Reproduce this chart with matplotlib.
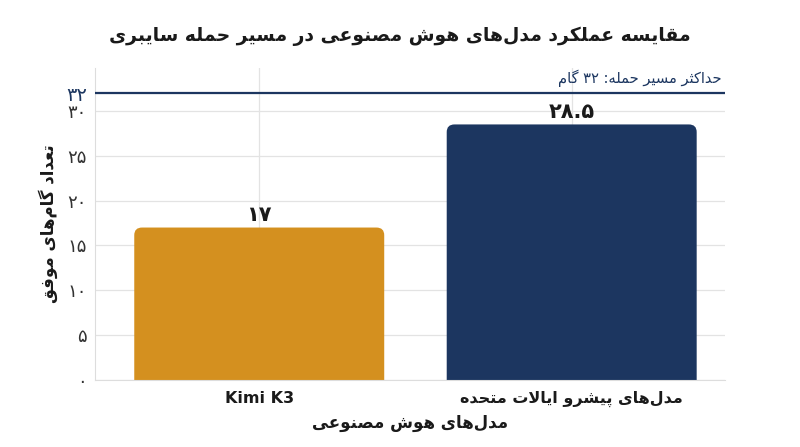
import re
import matplotlib
matplotlib.use("Agg")
import matplotlib.pyplot as plt
from matplotlib.patches import FancyBboxPatch

# chart data
categories = ["Kimi K3", "مدل‌های پیشرو ایالات متحده"]
steps = [17, 28.5]
bar_colors = ["#D4901F", "#1C3660"]
max_steps = 32
yticks = [0, 5, 10, 15, 20, 25, 30]

title = "مقایسه عملکرد مدل‌های هوش مصنوعی در مسیر حمله سایبری"
xlabel = "مدل‌های هوش مصنوعی"
ylabel = "تعداد گام‌های موفق"
max_label = "حداکثر مسیر حمله: ۳۲ گام"

# --- minimal Persian shaping (matplotlib has no bidi / joining) ---
# isolated, final, initial, medial
FORMS = {
    "ا": ("\uFE8D", "\uFE8E", None, None),
    "آ": ("\uFE81", "\uFE82", None, None),
    "د": ("\uFEA9", "\uFEAA", None, None),
    "ذ": ("\uFEAB", "\uFEAC", None, None),
    "ر": ("\uFEAD", "\uFEAE", None, None),
    "ز": ("\uFEAF", "\uFEB0", None, None),
    "ژ": ("\uFB8A", "\uFB8B", None, None),
    "و": ("\uFEED", "\uFEEE", None, None),
    "ب": ("\uFE8F", "\uFE90", "\uFE91", "\uFE92"),
    "پ": ("\uFB56", "\uFB57", "\uFB58", "\uFB59"),
    "ت": ("\uFE95", "\uFE96", "\uFE97", "\uFE98"),
    "ث": ("\uFE99", "\uFE9A", "\uFE9B", "\uFE9C"),
    "ج": ("\uFE9D", "\uFE9E", "\uFE9F", "\uFEA0"),
    "چ": ("\uFB7A", "\uFB7B", "\uFB7C", "\uFB7D"),
    "ح": ("\uFEA1", "\uFEA2", "\uFEA3", "\uFEA4"),
    "خ": ("\uFEA5", "\uFEA6", "\uFEA7", "\uFEA8"),
    "س": ("\uFEB1", "\uFEB2", "\uFEB3", "\uFEB4"),
    "ش": ("\uFEB5", "\uFEB6", "\uFEB7", "\uFEB8"),
    "ص": ("\uFEB9", "\uFEBA", "\uFEBB", "\uFEBC"),
    "ع": ("\uFEC9", "\uFECA", "\uFECB", "\uFECC"),
    "ف": ("\uFED1", "\uFED2", "\uFED3", "\uFED4"),
    "ق": ("\uFED5", "\uFED6", "\uFED7", "\uFED8"),
    "ک": ("\uFB8E", "\uFB8F", "\uFB90", "\uFB91"),
    "گ": ("\uFB92", "\uFB93", "\uFB94", "\uFB95"),
    "ل": ("\uFEDD", "\uFEDE", "\uFEDF", "\uFEE0"),
    "م": ("\uFEE1", "\uFEE2", "\uFEE3", "\uFEE4"),
    "ن": ("\uFEE5", "\uFEE6", "\uFEE7", "\uFEE8"),
    "ه": ("\uFEE9", "\uFEEA", "\uFEEB", "\uFEEC"),
    "ی": ("\uFBFC", "\uFBFD", "\uFBFE", "\uFBFF"),
}


def dual(ch):
    return ch in FORMS and FORMS[ch][2] is not None


def fa(text):
    """Shape Persian text and put it in visual (left-to-right) order."""
    out = []
    i = 0
    n = len(text)
    while i < n:
        ch = text[i]
        prev = text[i - 1] if i > 0 else ""
        joins_prev = dual(prev)
        if ch == "ل" and i + 1 < n and text[i + 1] == "ا":
            out.append("\uFEFC" if joins_prev else "\uFEFB")
            i += 2
            continue
        if ch not in FORMS:
            out.append(ch)
            i += 1
            continue
        nxt = text[i + 1] if i + 1 < n else ""
        joins_next = dual(ch) and nxt in FORMS
        iso, fin, ini, med = FORMS[ch]
        if joins_prev and joins_next:
            out.append(med)
        elif joins_prev:
            out.append(fin)
        elif joins_next:
            out.append(ini)
        else:
            out.append(iso)
        i += 1
    shaped = "".join(out).replace("\u200c", "")
    visual = shaped[::-1]
    # numbers stay left-to-right
    return re.sub(r"[0-9۰-۹.]+", lambda m: m.group(0)[::-1], visual)


def fa_digits(value):
    return str(value).translate(str.maketrans("0123456789", "۰۱۲۳۴۵۶۷۸۹"))


def label(text):
    return text if text.isascii() else fa(text)


plt.rcParams["font.family"] = ["DejaVu Sans"]

fig = plt.figure(figsize=(8, 4.47), dpi=100)
ax = fig.add_axes([0.119, 0.150, 0.787, 0.698])

x = list(range(len(categories)))
bar_w = 0.8
ax.set_xlim(-0.525, 1.49)
ax.set_ylim(0, 34.8)

# rounded-top bars, bottom corners pushed below the axis and clipped
bars = ax.bar(x, steps, width=bar_w, color=bar_colors, alpha=0)
for rect, c in zip(bars, bar_colors):
    patch = FancyBboxPatch(
        (rect.get_x(), -2), rect.get_width(), rect.get_height() + 2,
        boxstyle="round,pad=0,rounding_size=0.025", mutation_aspect=34,
        facecolor=c, edgecolor="none", zorder=2,
    )
    ax.add_patch(patch)

for xi, v in zip(x, steps):
    ax.annotate(fa_digits(v), (xi, v), xytext=(0, 2), textcoords="offset points",
                ha="center", va="bottom", fontsize=15, fontweight="bold",
                color="#1a1a1a", zorder=3)

# maximum attack path line
ax.axhline(max_steps, color="#1C3660", linewidth=1.6, zorder=3)
ax.text(1.48, max_steps + 0.7, fa(max_label), ha="right", va="bottom",
        fontsize=10.5, color="#1C3660")

ax.set_yticks(yticks + [max_steps])
ax.set_yticklabels([fa_digits(t) for t in yticks] + [fa_digits(max_steps)],
                   fontsize=13, color="#333333")
ax.get_yticklabels()[-1].set_color("#1C3660")
ax.get_yticklabels()[-1].set_fontsize(14)
ax.set_xticks(x)
ax.set_xticklabels([label(c) for c in categories], fontsize=11.5,
                   fontweight="bold", color="#1a1a1a")
ax.tick_params(axis="y", length=0, pad=6)
ax.tick_params(axis="x", length=0, pad=8)

ax.grid(True, color="#e3e3e3", linewidth=0.9, zorder=0)
ax.set_axisbelow(True)
for side in ["top", "right"]:
    ax.spines[side].set_visible(False)
for side in ["left", "bottom"]:
    ax.spines[side].set_color("#dddddd")

ax.set_ylabel(fa(ylabel), fontsize=12, fontweight="bold", color="#1a1a1a", labelpad=6)
ax.set_xlabel(fa(xlabel), fontsize=12, fontweight="bold", color="#1a1a1a", labelpad=5)
fig.suptitle(fa(title), x=0.5, y=0.94, fontsize=13.5, fontweight="bold", color="#1a1a1a")

fig.savefig("out.png", dpi=100, facecolor="white")
